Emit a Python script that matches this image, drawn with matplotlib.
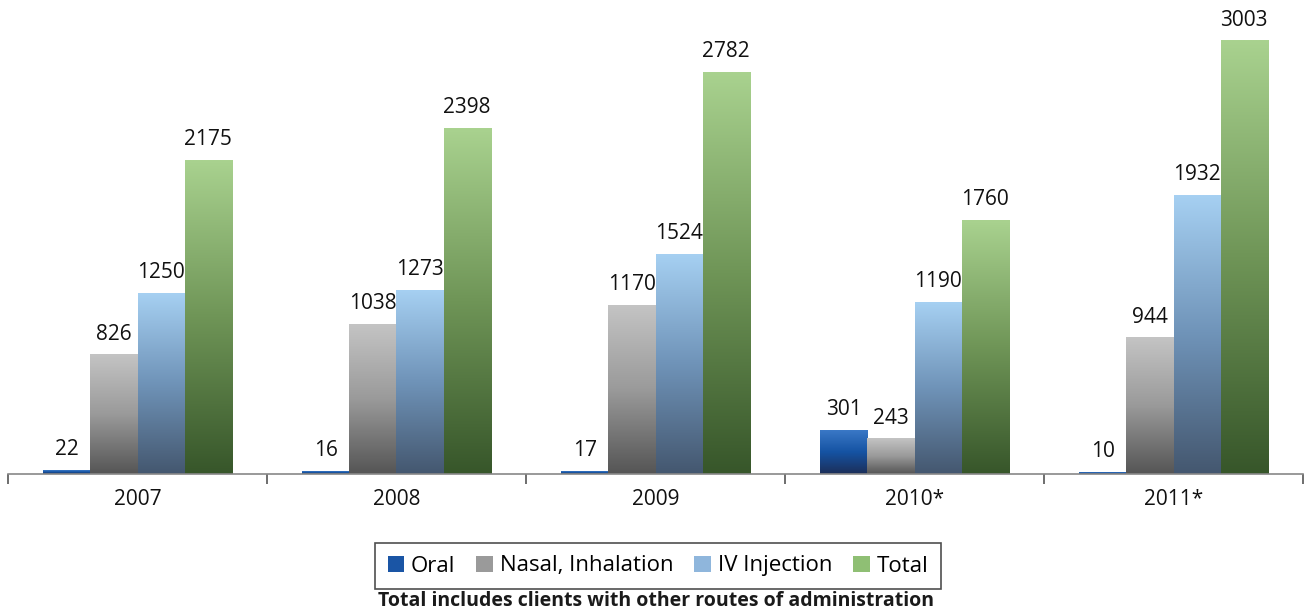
import numpy as np
import matplotlib
matplotlib.use("Agg")
import matplotlib.pyplot as plt
from matplotlib.colors import LinearSegmentedColormap
from matplotlib.patches import Patch

plt.rcParams["font.family"] = ["Open Sans", "DejaVu Sans"]

# =========================
# DATA
# =========================
years = ["2007", "2008", "2009", "2010*", "2011*"]
series = ["Oral", "Nasal, Inhalation", "IV Injection", "Total"]
oral = [22, 16, 17, 301, 10]
nasal = [826, 1038, 1170, 243, 944]
iv = [1250, 1273, 1524, 1190, 1932]
total = [2175, 2398, 2782, 1760, 3003]

# top -> bottom colour stops for each series
gradients = [
    ["#3a78c6", "#1553a3", "#1c2e58"],
    ["#c4c4c4", "#9a9a9a", "#555555"],
    ["#a6d0f2", "#6f93b8", "#44576f"],
    ["#a9d28f", "#6f9557", "#37562a"],
]
mid_colors = ["#1a55a5", "#9a9a9a", "#8fb6dc", "#8fbf74"]

fig = plt.figure(figsize=(13.11, 6.11), dpi=100)
ax = fig.add_axes([8 / 1311, 137 / 611, 1295 / 1311, 474 / 611])

x = np.arange(len(years))
w = 0.1815
offsets = [-1.5 * w, -0.5 * w, 0.5 * w, 1.5 * w]

for vals, off, stops in zip([oral, nasal, iv, total], offsets, gradients):
    cmap = LinearSegmentedColormap.from_list("g", stops[::-1])
    bars = ax.bar(x + off, vals, w, color="none", edgecolor="none")
    for b, v in zip(bars, vals):
        x0 = b.get_x()
        grad = np.linspace(0, 1, 256).reshape(-1, 1)
        ax.imshow(grad, cmap=cmap, origin="lower", aspect="auto",
                  extent=[x0, x0 + w, 0, v], interpolation="bilinear", zorder=2)
        ax.annotate(str(v), (x0 + w / 2, v), xytext=(0, 15), textcoords="offset points",
                    ha="center", va="center", fontsize=15, color="#111111")

ax.set_xlim(-0.5, len(years) - 0.5)
ax.set_ylim(0, 3287)

for s in ["top", "left", "right"]:
    ax.spines[s].set_visible(False)
ax.spines["bottom"].set_color("#888888")
ax.spines["bottom"].set_linewidth(1.2)
ax.set_yticks([])

ax.set_xticks(np.arange(-0.5, len(years)), minor=False)
ax.set_xticklabels([])
ax.tick_params(axis="x", which="major", length=7, width=1.2, color="#555555", direction="out")
ax.set_xticks(x, minor=True)
ax.set_xticklabels(years, minor=True)
ax.tick_params(axis="x", which="minor", length=0, pad=11, labelsize=15, labelcolor="#111111")

handles = [Patch(facecolor=c, edgecolor="none") for c in mid_colors]
leg = fig.legend(handles, series, loc="center", bbox_to_anchor=(658 / 1311, 1 - 566 / 611),
                 ncol=4, fontsize=16, frameon=True, fancybox=False, edgecolor="#222222",
                 handlelength=0.75, handleheight=0.75, handletextpad=0.3, columnspacing=0.95,
                 borderpad=0.55)
leg.get_frame().set_linewidth(1.2)

fig.text(656 / 1311, 1 - 601 / 611, "Total includes clients with other routes of administration",
         ha="center", va="center", fontsize=14, fontweight="bold", color="#1a1a1a")

fig.savefig("out.png", dpi=100)
